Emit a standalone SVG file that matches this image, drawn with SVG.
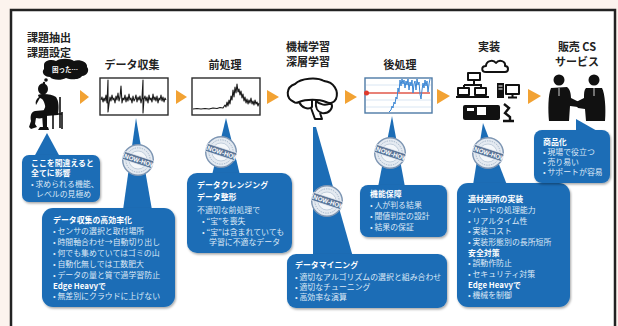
<svg xmlns="http://www.w3.org/2000/svg" xmlns:xlink="http://www.w3.org/1999/xlink" width="618" height="326" viewBox="0 0 618 326">
  <style>
    .hd { font-family: "Noto Sans CJK JP", "Noto Sans", sans-serif; font-size: 11px; font-weight: bold; fill: #222; text-anchor: middle; }
    .bx { fill: #1c6db6; filter: url(#shadow); }
    .ptr { fill: #1c6db6; }
    .t { font-family: "Noto Sans CJK JP", "Noto Sans", sans-serif; font-size: 7.9px; fill: #dde9f6; }
    .tb { font-family: "Noto Sans CJK JP", "Noto Sans", sans-serif; font-size: 7.9px; fill: #ffffff; font-weight: bold; }
    .arrow { fill: #f2a233; }
    .graph { fill: #ffffff; stroke: #2b2b2b; stroke-width: 1.4; }
    .sig { fill: none; stroke: #1a1a1a; stroke-width: 1.1; stroke-linejoin: round; }
    .icon { fill: none; stroke: #111; stroke-width: 2; stroke-linejoin: round; }
    .solid { fill: #111; }
  </style>
  <defs>
    <filter id="shadow" x="-10%" y="-10%" width="125%" height="130%">
      <feDropShadow dx="1" dy="1.5" stdDeviation="1.2" flood-color="#000" flood-opacity="0.35"/>
    </filter>
    <!-- circular "KNOW-HOW" stamp -->
    <symbol id="knowhow" viewBox="-20 -20 40 40" overflow="visible">
      <circle r="17" fill="#e4eaf1" stroke="#7e96b3" stroke-width="1.6"/>
      <circle r="13.5" fill="none" stroke="#8aa0ba" stroke-width="0.8" stroke-dasharray="1.5 1.2"/>
      <circle r="10" fill="#f4f7fa" stroke="#9fb2c8" stroke-width="0.6"/>
      <g transform="rotate(18)">
        <rect x="-17" y="-4.5" width="34" height="9" fill="#5a7598" stroke="#e4eaf1" stroke-width="0.8"/>
        <text x="0" y="2.6" font-family="Liberation Sans, sans-serif" font-size="7" font-weight="bold" fill="#fff" text-anchor="middle">KNOW-HOW</text>
      </g>
    </symbol>
  </defs>

  <!-- page and frame -->
  <rect width="618" height="326" fill="#fcf3ee"/>
  <rect x="11" y="10" width="604" height="330" fill="#ffffff" stroke="#222" stroke-width="2.5"/>

  <!-- process step headings -->
  <g id="headings">
    <text class="hd" x="49" y="42">課題抽出</text>
    <text class="hd" x="49" y="57">課題設定</text>
    <text class="hd" x="132" y="69">データ収集</text>
    <text class="hd" x="225" y="69">前処理</text>
    <text class="hd" x="308" y="51">機械学習</text>
    <text class="hd" x="308" y="66">深層学習</text>
    <text class="hd" x="400" y="69">後処理</text>
    <text class="hd" x="489" y="51">実装</text>
    <text class="hd" x="577" y="51">販売 CS</text>
    <text class="hd" x="577" y="66">サービス</text>
  </g>

  <!-- flow arrows between steps -->
  <g id="connectors">
    <polygon class="arrow" points="80,90 80,104 89,97"/>
    <polygon class="arrow" points="176,90 176,104 187,97"/>
    <polygon class="arrow" points="267,90 267,104 279,97"/>
    <polygon class="arrow" points="345,90 345,104 357,97"/>
    <polygon class="arrow" points="437,89 437,104 450,96"/>
    <polygon class="arrow" points="528,89 528,104 541,96"/>
  </g>

  <!-- step 1: worried person -->
  <g id="step-problem">
    <path class="solid" d="M44,65 C44,60 52,59 56,61 C60,58 70,58 74,61 C79,59 88,62 87,67 C90,70 87,76 82,76 C80,80 70,80 66,78 C61,81 52,80 50,77 C44,77 41,72 44,69 Z"/>
    <circle class="solid" cx="46" cy="80" r="1.8"/>
    <circle class="solid" cx="44" cy="83" r="1.2"/>
    <text x="65" y="72" font-family="Noto Sans CJK JP, sans-serif" font-size="6.5" font-weight="bold" fill="#fff" text-anchor="middle">困った…</text>
    <!-- seated figure, head in hand -->
    <ellipse class="solid" cx="43" cy="89" rx="5" ry="5.8"/>
    <path class="solid" d="M38,95 C42,93 52,94 56,97 C59,101 59,108 58,115 L46,116 C44,118 40,119 36,118 L35,124 L37,127 L31,129 L29,127 L31,121 C30,116 31,112 35,111 L46,110 C45,104 44,101 42,99 C40,98 38,97 38,95 Z"/>
    <path class="solid" d="M39,97 C36,99 35,102 36,105 L41,96 Z"/>
    <path class="solid" d="M47,103 L43,112 L48,113 L51,104 Z"/>
    <path class="solid" d="M42,114 L47,115 L47,128 L43,128 Z"/>
    <path class="solid" d="M40,127 L48,127 L49,130 L38,130 Z"/>
    <path fill="none" stroke="#111" stroke-width="1.6" d="M60,97 L60,128 M56,114 L62,114 M53,115 L53,129 M62,112 L62,129"/>
  </g>

  <!-- step 2: raw data plot -->
  <g id="step-collect">
    <rect class="graph" x="100" y="78" width="68" height="37"/>
    <polyline class="sig" points="101,100 102,97 103,102 104,98 105,101 106,95 107,103 108,80 108,112 109,104 110,97 111,101 112,95 113,100 114,98 115,103 116,96 117,100 118,93 119,101 120,97 121,86 122,103 123,98 124,100 125,95 126,102 127,97 128,101 129,94 130,100 131,98 132,103 133,96 134,101 135,99 136,95 137,102 138,97 139,100 140,96 141,103 142,98 143,80 143,113 144,99 145,96 146,101 147,97 148,103 149,95 150,100 151,98 152,102 153,94 154,100 155,97 156,101 157,96 158,103 159,98 160,100 161,95 162,101 163,97 164,102 165,98 166,100"/>
  </g>

  <!-- step 3: cleaned data plot -->
  <g id="step-preprocess">
    <rect class="graph" x="192" y="78" width="68" height="37"/>
    <polyline class="sig" points="193,109 197,108.5 201,109 205,108.5 209,109 213,108 217,108.5 220,107.5 223,108 225,105 226,107 227,102 228,106 229,100 230,104 231,96 232,100 233,90 234,97 235,87 236,93 237,84 238,92 239,89 240,95 241,91 242,98 243,94 244,101 245,97 246,103 247,99 248,104 249,100 250,103 251,98 252,104 253,101 254,105 255,100 256,104 257,102 258,106 259,103"/>
  </g>

  <!-- step 4: brain -->
  <g id="step-learning">
    <path class="icon" stroke-width="3" d="M294,102 C285,98 286,87 295,84 C301,78 317,77 324,81 C334,82 339,91 336,99 C334,103 330,104 326,102 C319,99 306,99 299,102 C297,103 295,103 294,102 Z"/>
    <path class="icon" stroke-width="3" d="M299,102 C302,108 308,110 312,107 L312,100"/>
    <path class="icon" stroke-width="3" d="M316,101 C320,105 326,106 331,103 C334,108 329,114 322,113 C318,112 315,108 316,101 Z"/>
    <path class="icon" stroke-width="3" d="M311,108 L315,119 L322,119 L320,113"/>
  </g>

  <!-- step 5: thresholded result plot -->
  <g id="step-postprocess">
    <rect x="365" y="78" width="67" height="35" fill="#fff" stroke="#4d7aa6" stroke-width="1.4"/>
    <g stroke="#cfe0f0" stroke-width="0.8">
      <line x1="366" y1="85" x2="431" y2="85"/>
      <line x1="366" y1="100" x2="431" y2="100"/>
      <line x1="366" y1="107" x2="431" y2="107"/>
    </g>
    <line x1="366" y1="93" x2="430" y2="93" stroke="#e0574a" stroke-width="1.4"/>
    <circle cx="366.5" cy="93" r="2.5" fill="#e03a2c"/>
    <polyline fill="none" stroke="#3a86d4" stroke-width="1" points="389,112 391,110 392,106 393,108 394,102 395,104 396,97 397,99 398,88 399,92 400,80 401,86 402,79 403,84 404,80 405,88 406,81 407,85 408,79 409,90 410,82 411,86 412,80 413,93 414,84 415,81 416,90 417,79 418,85 419,82 420,94 421,99 422,90 423,83 424,88 425,80 426,86 427,81 428,92 429,84 430,79"/>
  </g>

  <!-- step 6: implementation icons -->
  <g id="step-implement">
    <path class="icon" d="M486,72 C481,72 481,66 486,66 C486,61 493,59 496,63 C499,59 506,61 505,66 C509,66 509,72 505,72 Z"/>
    <rect class="icon" x="468" y="73" width="12" height="7"/>
    <path class="icon" d="M474,80 L474,85 M464,85 L482,85 M464,85 L464,88 M481,85 L481,88"/>
    <rect class="icon" x="458" y="88" width="11" height="7"/>
    <rect class="icon" x="475" y="88" width="11" height="7"/>
    <path class="icon" d="M456,97 L489,97"/>
    <rect class="solid" x="497" y="83" width="7" height="15"/>
    <path stroke="#fff" stroke-width="1" d="M498.5,86 L502.5,86 M498.5,89 L502.5,89"/>
    <rect class="icon" x="506" y="85" width="13" height="9"/>
    <path class="icon" d="M512.5,94 L512.5,97 M508,97.5 L517,97.5"/>
    <rect class="solid" x="463" y="105" width="37" height="15" rx="2"/>
    <rect x="477" y="107" width="9" height="8" fill="#fff"/>
    <rect x="467" y="108" width="7" height="3" fill="#fff"/>
    <path fill="none" stroke="#111" stroke-width="2.4" d="M504,104 L509,108 L505,113 L510,117 L510,121 M503,121 L514,121"/>
  </g>

  <!-- step 7: handshake -->
  <g id="step-sales">
    <circle class="solid" cx="559" cy="80" r="5.5"/>
    <path class="solid" d="M551,88 L567,87 C570,89 571,94 571,98 L579,102 L578,107 L570,106 L569,121 L549,121 C548,110 548,95 551,88 Z"/>
    <circle class="solid" cx="594" cy="80" r="5.5"/>
    <path class="solid" d="M586,88 L602,88 C605,94 606,108 605,121 L586,121 L585,109 L578,108 L574,103 L584,98 C584,93 584,90 586,88 Z"/>
    <path stroke="#fff" stroke-width="0.8" d="M559,88 L559,96 M594,88 L594,96"/>
  </g>

  <!-- callout pointers -->
  <g id="pointers">
    <polygon class="ptr" points="47,133 34,157 60,157"/>
    <polygon class="ptr" points="136,118 123,210 152,210"/>
    <polygon class="ptr" points="226,118 212,175 240,175"/>
    <polygon class="ptr" points="313,127 316,127 353,257 313,257"/>
    <polygon class="ptr" points="392,116 378,187 405,187"/>
    <polygon class="ptr" points="483,123 473,185 507,185"/>
    <polygon class="ptr" points="576,119 576,132 599,132"/>
  </g>

  <!-- callout A -->
  <g id="note-problem">
    <rect class="bx" x="22" y="155" width="78" height="47" rx="7"/>
    <text class="tb" x="31" y="166">ここを間違えると</text>
    <text class="tb" x="31" y="176">全てに影響</text>
    <text class="t" x="31" y="187">• 求められる機能、</text>
    <text class="t" x="36" y="197">レベルの見極め</text>
  </g>

  <!-- callout B -->
  <g id="note-collect">
    <rect class="bx" x="42" y="208" width="133" height="99" rx="11"/>
    <text class="tb" x="53" y="223">データ収集の高効率化</text>
    <text class="t" x="53" y="234">• センサの選択と取付場所</text>
    <text class="t" x="53" y="245">• 時間軸合わせ→自動切り出し</text>
    <text class="t" x="53" y="256">• 何でも集めていてはゴミの山</text>
    <text class="t" x="53" y="267">• 自動化無しでは工数肥大</text>
    <text class="t" x="53" y="278">• データの量と質で過学習防止</text>
    <text class="tb" x="53" y="289">Edge Heavyで</text>
    <text class="t" x="53" y="299">• 無差別にクラウドに上げない</text>
  </g>

  <!-- callout C -->
  <g id="note-preprocess">
    <rect class="bx" x="187" y="173" width="105" height="80" rx="10"/>
    <text class="tb" x="197" y="188">データクレンジング</text>
    <text class="tb" x="197" y="200">データ整形</text>
    <text class="t" x="197" y="213">不適切な前処理で</text>
    <text class="t" x="202" y="224">• “宝”を喪失</text>
    <text class="t" x="202" y="235">• “宝”は含まれていても</text>
    <text class="t" x="209" y="245">学習に不適なデータ</text>
  </g>

  <!-- callout D -->
  <g id="note-learning">
    <rect class="bx" x="287" y="254" width="160" height="54" rx="9"/>
    <text class="tb" x="295" y="268">データマイニング</text>
    <text class="t" x="295" y="280">• 適切なアルゴリズムの選択と組み合わせ</text>
    <text class="t" x="295" y="290">• 適切なチューニング</text>
    <text class="t" x="295" y="300">• 高効率な演算</text>
  </g>

  <!-- callout E -->
  <g id="note-postprocess">
    <rect class="bx" x="360" y="185" width="87" height="52" rx="8"/>
    <text class="tb" x="370" y="197">機能保障</text>
    <text class="t" x="370" y="208">• 人が判る結果</text>
    <text class="t" x="370" y="219">• 閾値判定の設計</text>
    <text class="t" x="370" y="230">• 結果の保証</text>
  </g>

  <!-- callout F -->
  <g id="note-implement">
    <rect class="bx" x="457" y="183" width="113" height="124" rx="11"/>
    <text class="tb" x="468" y="202">適材適所の実装</text>
    <text class="t" x="468" y="213">• ハードの処理能力</text>
    <text class="t" x="468" y="224">• リアルタイム性</text>
    <text class="t" x="468" y="234">• 実装コスト</text>
    <text class="t" x="468" y="245">• 実装形態別の長所短所</text>
    <text class="tb" x="468" y="256">安全対策</text>
    <text class="t" x="468" y="266">• 誤動作防止</text>
    <text class="t" x="468" y="277">• セキュリティ対策</text>
    <text class="tb" x="468" y="288">Edge Heavyで</text>
    <text class="t" x="468" y="298">• 機械を制御</text>
  </g>

  <!-- callout G -->
  <g id="note-sales">
    <rect class="bx" x="534" y="130" width="76" height="53" rx="8"/>
    <text class="tb" x="543" y="145">商品化</text>
    <text class="t" x="543" y="155">• 現場で役立つ</text>
    <text class="t" x="543" y="165">• 売り易い</text>
    <text class="t" x="543" y="175">• サポートが容易</text>
  </g>

  <!-- know-how stamps -->
  <g id="stamps">
    <use xlink:href="#knowhow" x="120" y="142" width="36" height="36"/>
    <use xlink:href="#knowhow" x="203" y="134" width="36" height="36"/>
    <use xlink:href="#knowhow" x="309" y="183" width="36" height="36"/>
    <use xlink:href="#knowhow" x="372" y="135" width="36" height="36"/>
    <use xlink:href="#knowhow" x="470" y="135" width="36" height="36"/>
  </g>
</svg>
